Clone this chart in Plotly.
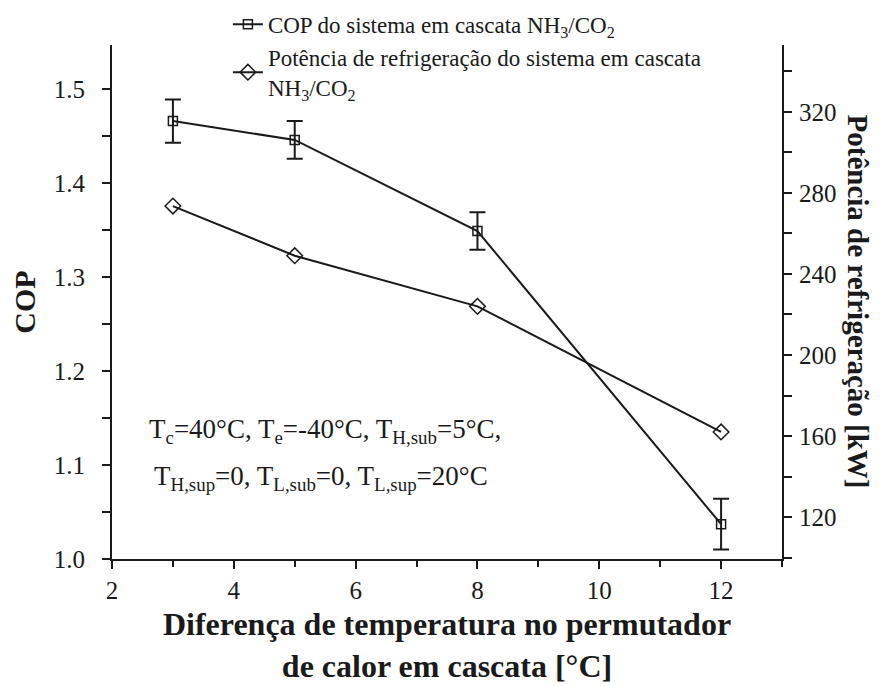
import plotly.graph_objects as go

# values
delta_t = [3, 5, 8, 12]
cop = [1.466, 1.446, 1.349, 1.037]
cop_err = [0.023, 0.020, 0.020, 0.027]
potencia = [273.5, 249, 224, 162]

FONT = "Liberation Serif"
INK = "#1a1a1a"

fig = go.Figure()

fig.add_trace(
    go.Scatter(
        x=delta_t,
        y=cop,
        mode="lines+markers",
        name="COP do sistema em cascata NH<sub>3</sub>/CO<sub>2</sub>",
        line=dict(color=INK, width=2),
        marker=dict(symbol="square-open", size=9, color=INK, line=dict(width=1.5)),
        error_y=dict(type="data", array=cop_err, color=INK, thickness=2, width=8),
    )
)
fig.add_trace(
    go.Scatter(
        x=delta_t,
        y=potencia,
        mode="lines+markers",
        name="Potência de refrigeração do sistema em cascata<br>NH<sub>3</sub>/CO<sub>2</sub>",
        line=dict(color=INK, width=2),
        marker=dict(symbol="diamond-open", size=12, color=INK, line=dict(width=1.5)),
        yaxis="y2",
    )
)

axis_common = dict(
    showline=True,
    linecolor=INK,
    linewidth=2,
    ticks="outside",
    ticklen=8,
    tickwidth=2,
    tickcolor=INK,
    showgrid=False,
    zeroline=False,
    tickfont=dict(family=FONT, size=25, color=INK),
)

fig.update_layout(
    width=885,
    height=686,
    margin=dict(l=104, r=111, t=37, b=135, autoexpand=False),
    plot_bgcolor="white",
    paper_bgcolor="white",
    font=dict(family=FONT, color=INK),
    xaxis=dict(
        range=[2, 13],
        dtick=2,
        minor=dict(dtick=1, ticks="outside", ticklen=6, tickwidth=2, tickcolor=INK),
        title=dict(
            text="<b>Diferença de temperatura no permutador<br>de calor em cascata [°C]</b>",
            font=dict(family=FONT, size=32, color=INK),
            standoff=10,
        ),
        **axis_common,
    ),
    yaxis=dict(
        range=[1.0, 1.547],
        dtick=0.1,
        tickformat=".1f",
        ticklabelstandoff=12,
        minor=dict(dtick=0.05, ticks="outside", ticklen=8, tickwidth=2, tickcolor=INK),
        title=dict(text="<b>COP</b>", font=dict(family=FONT, size=30, color=INK), standoff=14),
        **axis_common,
    ),
    yaxis2=dict(
        range=[99.3, 353],
        tickvals=[120, 160, 200, 240, 280, 320],
        overlaying="y",
        side="right",
        ticklabelstandoff=2,
        minor=dict(tickvals=[100, 140, 180, 220, 260, 300, 340], ticks="outside",
                   ticklen=8, tickwidth=2, tickcolor=INK),
        **axis_common,
    ),
    legend=dict(
        x=0.173,
        y=1.082,
        xanchor="left",
        yanchor="top",
        bgcolor="rgba(0,0,0,0)",
        font=dict(family=FONT, size=23, color=INK),
        itemwidth=30,
    ),
    showlegend=True,
)

fig.add_annotation(
    text="<b>Potência de refrigeração [kW]</b>",
    textangle=90,
    xref="paper",
    yref="paper",
    x=1.141,
    y=0.5,
    showarrow=False,
    font=dict(family=FONT, size=29, color=INK),
)

# condition text, two lines spaced like the reference
cond_font = dict(family=FONT, size=27, color=INK)
fig.add_annotation(
    text="T<sub>c</sub>=40°C, T<sub>e</sub>=-40°C, T<sub>H,sub</sub>=5°C,",
    xref="paper",
    yref="paper",
    x=0.052,
    y=0.25,
    xanchor="left",
    yanchor="middle",
    showarrow=False,
    font=cond_font,
)
fig.add_annotation(
    text="T<sub>H,sup</sub>=0, T<sub>L,sub</sub>=0, T<sub>L,sup</sub>=20°C",
    xref="paper",
    yref="paper",
    x=0.059,
    y=0.158,
    xanchor="left",
    yanchor="middle",
    showarrow=False,
    font=cond_font,
)

fig.write_html("out.html")
